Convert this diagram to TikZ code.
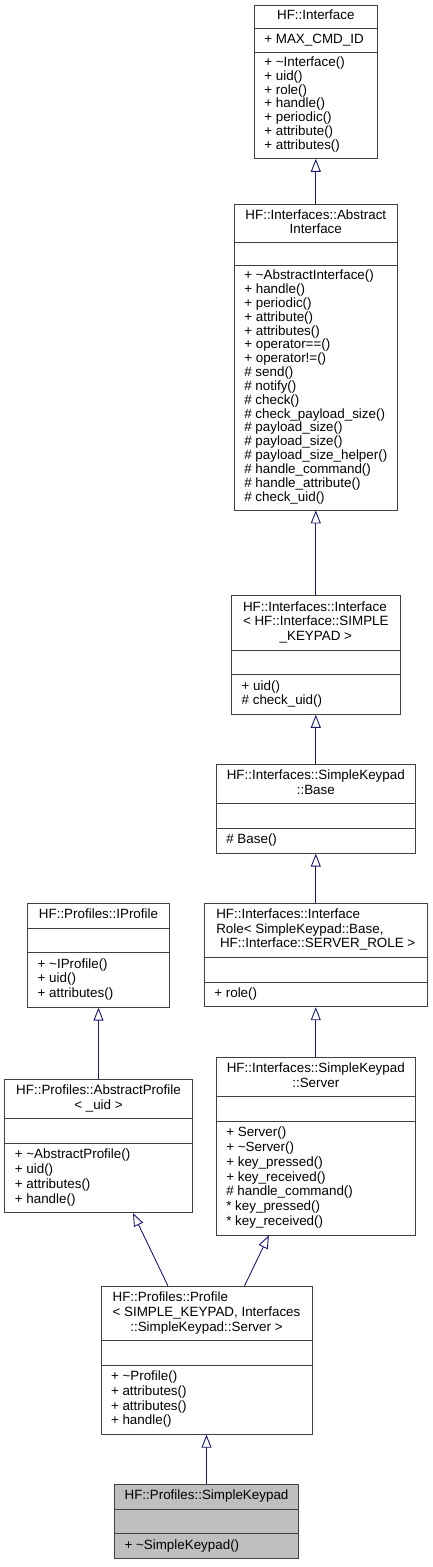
\documentclass[tikz,border=0pt]{standalone}
\usepackage{fontspec}
\setmainfont{Liberation Sans}
\usetikzlibrary{shapes.multipart, arrows.meta, positioning}

\definecolor{edgeblue}{RGB}{25,25,112}
\newcommand{\members}[1]{\begin{tabular}{@{}l@{}}#1\end{tabular}}
\newcommand{\lastline}[1]{\multicolumn{1}{@{}c@{}}{#1}}

\begin{document}
\begin{tikzpicture}[x=1pt, y=-1pt, node distance=49pt,
 cls/.style={rectangle split, rectangle split parts=3, draw=black!75, line width=0.9pt,
  fill=white, inner xsep=10pt, inner ysep=4.5pt, anchor=north,
  rectangle split part align={center,left,left}, font=\fontsize{13.4}{14.8}\selectfont},
 tight/.style={inner ysep=4.3pt, font=\fontsize{13.4}{13.75}\selectfont},
 isa/.style={draw=edgeblue, line width=0.9pt, -{Triangle[open, length=13pt, width=10pt]}}]
  \useasboundingbox (0,0) rectangle (433,1567);

  \node[cls, tight, minimum width=123pt] (iface) at (315.8,5) {\members{HF::Interface}
   \nodepart{two}\members{+ MAX\_CMD\_ID}
   \nodepart{three}\members{+ \textasciitilde Interface()\\+ uid()\\+ role()\\+ handle()\\
    + periodic()\\+ attribute()\\+ attributes()}};
  \node[cls, tight, minimum width=163pt, below=45.6pt of iface] (aiface)
   {\members{HF::Interfaces::Abstract\\\lastline{Interface}}
   \nodepart{two}\strut
   \nodepart{three}\members{+ \textasciitilde AbstractInterface()\\+ handle()\\+ periodic()\\
    + attribute()\\+ attributes()\\+ operator==()\\+ operator!=()\\\# send()\\\# notify()\\
    \# check()\\\# check\_payload\_size()\\\# payload\_size()\\\# payload\_size()\\
    \# payload\_size\_helper()\\\# handle\_command()\\\# handle\_attribute()\\\# check\_uid()}};
  \node[cls, minimum width=168.3pt, below=85pt of aiface] (tiface)
   {\members{HF::Interfaces::Interface\\< HF::Interface::SIMPLE\\\lastline{\_KEYPAD >}}
   \nodepart{two}\strut
   \nodepart{three}\members{+ uid()\\\# check\_uid()}};
  \node[cls, minimum width=199pt, below=49pt of tiface] (base)
   {\members{HF::Interfaces::SimpleKeypad\\\lastline{::Base}}
   \nodepart{two}\strut
   \nodepart{three}\members{\# Base()}};
  \node[cls, minimum width=223pt, below=49pt of base] (role)
   {\members{HF::Interfaces::Interface\\Role< SimpleKeypad::Base,\\\lastline{\ HF::Interface::SERVER\_ROLE >}}
   \nodepart{two}\strut
   \nodepart{three}\members{+ role()}};
  \node[cls, minimum width=199pt, below=49.6pt of role] (server)
   {\members{HF::Interfaces::SimpleKeypad\\\lastline{::Server}}
   \nodepart{two}\strut
   \nodepart{three}\members{+ Server()\\+ \textasciitilde Server()\\+ key\_pressed()\\
    + key\_received()\\\# handle\_command()\\{}* key\_pressed()\\{}* key\_received()}};

  \node[cls, minimum width=141.6pt] (iprof) at (98.5,903) {\members{HF::Profiles::IProfile}
   \nodepart{two}\strut
   \nodepart{three}\members{+ \textasciitilde IProfile()\\+ uid()\\+ attributes()}};
  \node[cls, minimum width=187.3pt, below=71.3pt of iprof] (aprof)
   {\members{HF::Profiles::AbstractProfile\\\lastline{< \_uid >}}
   \nodepart{two}\strut
   \nodepart{three}\members{+ \textasciitilde AbstractProfile()\\+ uid()\\+ attributes()\\+ handle()}};

  \node[cls, minimum width=211pt] (prof) at (206.5,1285.7)
   {\members{HF::Profiles::Profile\\< SIMPLE\_KEYPAD, Interfaces\\\lastline{::SimpleKeypad::Server >}}
   \nodepart{two}\strut
   \nodepart{three}\members{+ \textasciitilde Profile()\\+ attributes()\\+ attributes()\\+ handle()}};
  \node[cls, fill=black!25, minimum width=184pt, below=49.3pt of prof] (keypad)
   {\members{HF::Profiles::SimpleKeypad}
   \nodepart{two}\strut
   \nodepart{three}\members{+ \textasciitilde SimpleKeypad()}};

  \foreach \s/\t in {aiface/iface, tiface/aiface, base/tiface, role/base, server/role,
   aprof/iprof, keypad/prof} {
   \draw[isa] (\s.north) -- (\t.south);}
  \draw[isa] ([xshift=67.3pt]prof.north west) -- ([xshift=128.6pt]aprof.south west);
  \draw[isa] ([xshift=144pt]prof.north west) -- ([xshift=53pt]server.south west);
\end{tikzpicture}
\end{document}
